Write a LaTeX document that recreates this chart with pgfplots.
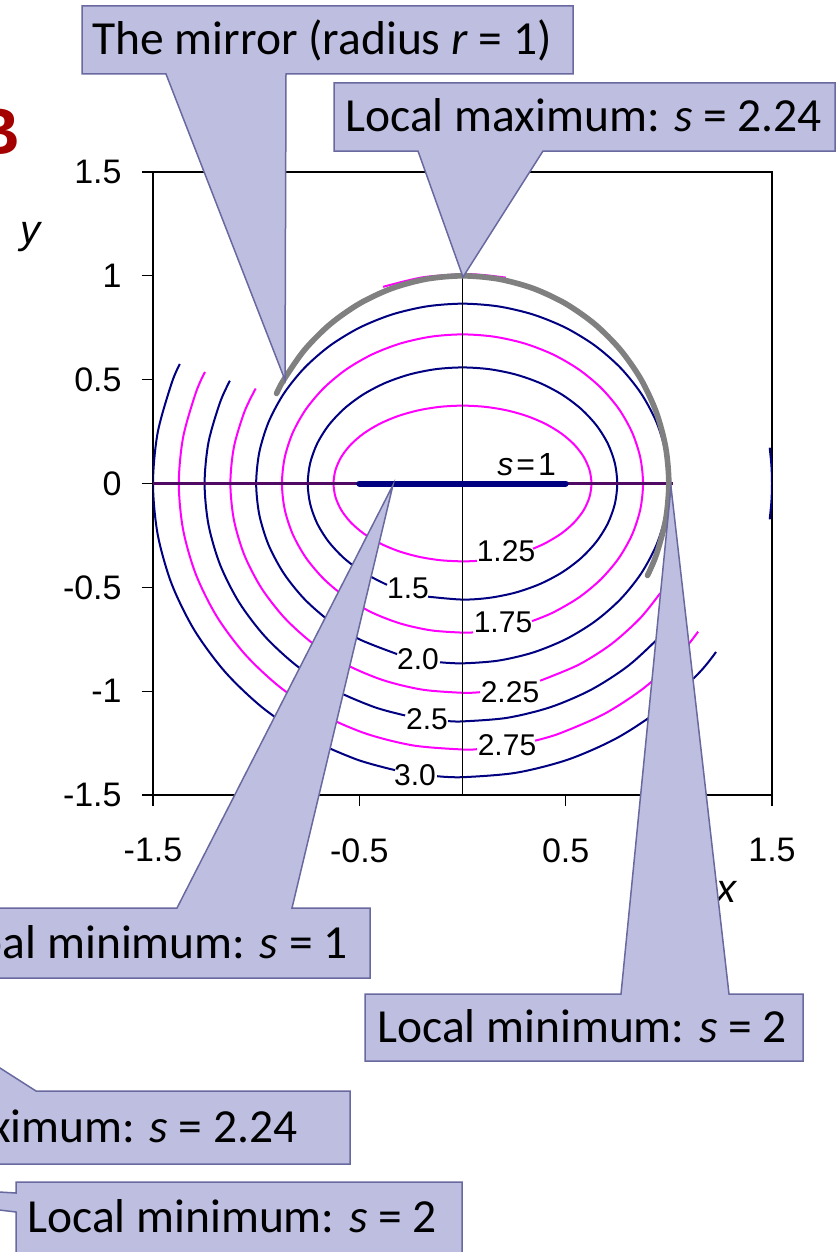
\documentclass[border=0pt]{standalone}
\usepackage{pgfplots}
\pgfplotsset{compat=1.18}
\usepackage{fontspec}
\setmainfont{Carlito}
\newfontfamily\arial{Liberation Sans}
\definecolor{cnavy}{RGB}{0,0,128}
\definecolor{cmag}{RGB}{255,0,255}
\definecolor{cfill}{RGB}{189,190,224}
\definecolor{cedge}{RGB}{105,105,160}
\definecolor{cred}{RGB}{165,0,0}
\definecolor{cgray}{RGB}{128,128,128}
\definecolor{czero}{RGB}{80,10,100}
\begin{document}
\begin{tikzpicture}
\begin{axis}[
  at={(76.5pt,-397.5pt)}, anchor=south west,
  scale only axis, width=309.5pt, height=311.5pt,
  xmin=-1.5,xmax=1.5,ymin=-1.5,ymax=1.5,
  xtick={-1.5,-0.5,0.5,1.5}, xticklabels={-1.5,-0.5,0.5,1.5},
  ytick={-1.5,-1,-0.5,0,0.5,1,1.5}, yticklabels={-1.5,-1,-0.5,0,0.5,1,1.5},
  tick align=outside, xtick pos=bottom, ytick pos=left,
  major tick length=5.5pt,
  axis line style={black,line width=0.6pt},
  tick style={black,line width=0.6pt},
  ticklabel style={font=\arial\fontsize{17}{20}\selectfont, inner sep=0pt},
  xticklabel style={anchor=north, yshift=-16pt},
  yticklabel style={anchor=east, xshift=-10pt},
]
% s = 1.25
\addplot[cmag, line width=1pt, smooth, line join=round] coordinates {
(0.342,-0.3139) (0.4017,-0.2873) (0.4788,-0.2410) (0.5413,-0.1875) (0.5873,-0.1283) (0.6155,-0.0651) (0.625,0) (0.6155,0.0651) (0.5873,0.1283) (0.5413,0.1875) (0.4788,0.2410) (0.4017,0.2873) (0.3125,0.3248) (0.2138,0.3524) (0.1085,0.3693) (0,0.375) (-0.1085,0.3693) (-0.2138,0.3524) (-0.3125,0.3248) (-0.4017,0.2873) (-0.4788,0.2410) (-0.5413,0.1875) (-0.5873,0.1283) (-0.6155,0.0651) (-0.625,0) (-0.6155,-0.0651) (-0.5873,-0.1283) (-0.5413,-0.1875) (-0.4788,-0.2410) (-0.4017,-0.2873) (-0.3125,-0.3248) (-0.2138,-0.3524) (-0.1085,-0.3693) (0,-0.375) (0.070,-0.3726)};
% s = 1.5
\addplot[cnavy, line width=1pt, smooth, line join=round] coordinates {
(-0.167,-0.5450) (0,-0.5590) (0.1302,-0.5505) (0.2565,-0.5253) (0.375,-0.4841) (0.4821,-0.4282) (0.5745,-0.3593) (0.6495,-0.2795) (0.7048,-0.1912) (0.7386,-0.0971) (0.75,0) (0.7386,0.0971) (0.7048,0.1912) (0.6495,0.2795) (0.5745,0.3593) (0.4821,0.4282) (0.375,0.4841) (0.2565,0.5253) (0.1302,0.5505) (0,0.5590) (-0.1302,0.5505) (-0.2565,0.5253) (-0.375,0.4841) (-0.4821,0.4282) (-0.5745,0.3593) (-0.6495,0.2795) (-0.7048,0.1912) (-0.7386,0.0971) (-0.75,0) (-0.7386,-0.0971) (-0.7048,-0.1912) (-0.6495,-0.2795) (-0.5745,-0.3593) (-0.4821,-0.4282) (-0.366,-0.4879)};
% s = 1.75
\addplot[cmag, line width=1pt, smooth, line join=round] coordinates {
(0.337,-0.6627) (0.4375,-0.6219) (0.5624,-0.5501) (0.6703,-0.4616) (0.7578,-0.3590) (0.8222,-0.2456) (0.8617,-0.1247) (0.875,0) (0.8617,0.1247) (0.8222,0.2456) (0.7578,0.3590) (0.6703,0.4616) (0.5624,0.5501) (0.4375,0.6219) (0.2993,0.6748) (0.1519,0.7072) (0,0.7181) (-0.1519,0.7072) (-0.2993,0.6748) (-0.4375,0.6219) (-0.5624,0.5501) (-0.6703,0.4616) (-0.7578,0.3590) (-0.8222,0.2456) (-0.8617,0.1247) (-0.875,0) (-0.8617,-0.1247) (-0.8222,-0.2456) (-0.7578,-0.3590) (-0.6703,-0.4616) (-0.5624,-0.5501) (-0.4375,-0.6219) (-0.2993,-0.6748) (-0.1519,-0.7072) (0,-0.7181) (0.051,-0.7169)};
% s = 2.0
\addplot[cnavy, line width=1pt, smooth, line join=round] coordinates {
(-0.109,-0.8609) (0,-0.8660) (0.1736,-0.8529) (0.3420,-0.8138) (0.5,-0.75) (0.6428,-0.6634) (0.7660,-0.5567) (0.8660,-0.4330) (0.9397,-0.2962) (0.9848,-0.1504) (1,0) (0.9848,0.1504) (0.9397,0.2962) (0.8660,0.4330) (0.7660,0.5567) (0.6428,0.6634) (0.5,0.75) (0.3420,0.8138) (0.1736,0.8529) (0,0.8660) (-0.1736,0.8529) (-0.3420,0.8138) (-0.5,0.75) (-0.6428,0.6634) (-0.7660,0.5567) (-0.8660,0.4330) (-0.9397,0.2962) (-0.9848,0.1504) (-1,0) (-0.9848,-0.1504) (-0.9397,-0.2962) (-0.8660,-0.4330) (-0.7660,-0.5567) (-0.6428,-0.6634) (-0.5,-0.75) (-0.317,-0.8214)};
% s = 2.25
\addplot[cmag, line width=1pt, smooth, line join=round] coordinates {
(-1.0024,0.4575) (-1.0572,0.3447) (-1.1079,0.1750) (-1.125,0) (-1.1079,-0.1750) (-1.0572,-0.3447) (-0.9743,-0.5039) (-0.8618,-0.6478) (-0.7231,-0.7720) (-0.5625,-0.8728) (-0.3848,-0.9470) (-0.1954,-0.9925) (0,-1.0078) (0.085,-1.0049)};
\addplot[cmag, line width=1pt, smooth, line join=round] coordinates {
(0.376,-0.9498) (0.5625,-0.8728) (0.7231,-0.7720) (0.8618,-0.6478) (0.9582,-0.5281)};
\addplot[cmag, line width=1pt, smooth, line join=round] coordinates {
(0.2100,0.9915) (0.1000,1.0040) (0,1.0078) (-0.1954,0.9925) (-0.3848,0.9470)};
% s = 2.5
\addplot[cnavy, line width=1pt, smooth, line join=round] coordinates {
(-1.1273,0.4950) (-1.1746,0.3918) (-1.2310,0.1989) (-1.25,0) (-1.2310,-0.1989) (-1.1746,-0.3918) (-1.0825,-0.5728) (-0.9576,-0.7364) (-0.8035,-0.8776) (-0.625,-0.9922) (-0.4275,-1.0766) (-0.278,-1.1170)};
\addplot[cnavy, line width=1pt, smooth, line join=round] coordinates {
(-0.070,-1.1438) (0,-1.1456) (0.2171,-1.1282) (0.4275,-1.0766) (0.625,-0.9922) (0.8035,-0.8776) (0.9576,-0.7364) (1.0202,-0.6620)};
% s = 2.75
\addplot[cmag, line width=1pt, smooth, line join=round] coordinates {
(-1.2482,0.5373) (-1.2921,0.4381) (-1.3541,0.2224) (-1.375,0) (-1.3541,-0.2224) (-1.2921,-0.4381) (-1.1908,-0.6404) (-1.0533,-0.8233) (-0.8838,-0.9812) (-0.6875,-1.1093) (-0.4703,-1.2036) (-0.2388,-1.2614) (0,-1.2809) (0.070,-1.2792)};
\addplot[cmag, line width=1pt, smooth, line join=round] coordinates {
(0.352,-1.2382) (0.4703,-1.2036) (0.6875,-1.1093) (0.8838,-0.9812) (1.0533,-0.8233) (1.1419,-0.7135)};
% s = 3.0
\addplot[cnavy, line width=1pt, smooth, line join=round] coordinates {
(-1.3700,0.5758) (-1.4095,0.4837) (-1.4772,0.2456) (-1.5,0) (-1.4772,-0.2456) (-1.4095,-0.4837) (-1.2990,-0.7071) (-1.1491,-0.9090) (-0.9642,-1.0834) (-0.75,-1.2247) (-0.5130,-1.3289) (-0.327,-1.3802)};
\addplot[cnavy, line width=1pt, smooth, line join=round] coordinates {
(-0.123,-1.4095) (0,-1.4142) (0.2605,-1.3927) (0.5130,-1.3289) (0.75,-1.2247) (0.9642,-1.0834) (1.1491,-0.9090) (1.2287,-0.8112)};
\addplot[cnavy, line width=1pt, smooth, line join=round] coordinates {
(1.4888,-0.1724) (1.4972,-0.0863) (1.5,0) (1.4972,0.0863) (1.4888,0.1724)};
% axes through origin
\addplot[czero, line width=1.2pt] coordinates {(-1.5,0) (1.02,0)};
\addplot[black, line width=0.8pt] coordinates {(0,-1.5) (0,1)};
% global minimum segment
\addplot[cnavy, line width=3pt, line cap=round] coordinates {(-0.5,0) (0.5,0)};
% mirror
\addplot[cgray, line width=2.8pt, smooth, line cap=round] coordinates {
(-0.9011,0.4337) (-0.8660,0.5) (-0.7660,0.6428) (-0.6428,0.7660) (-0.5,0.8660) (-0.3420,0.9397) (-0.1736,0.9848) (0,1) (0.1736,0.9848) (0.3420,0.9397) (0.5,0.8660) (0.6428,0.7660) (0.7660,0.6428) (0.8660,0.5) (0.9397,0.3420) (0.9848,0.1736) (1,0) (0.9848,-0.1736) (0.9397,-0.3420) (0.8965,-0.4431)};
\end{axis}
\begin{scope}[x=0.5pt,y=-0.5pt]
% contour labels
\begin{scope}[every node/.style={inner sep=0pt, font=\arial\fontsize{15}{17}\selectfont}]
\node at (506,551) {1.25};
\node at (408,588) {1.5};
\node at (503,622) {1.75};
\node at (418,659) {2.0};
\node at (510,692) {2.25};
\node at (427,719) {2.5};
\node at (507,745) {2.75};
\node at (415,775) {3.0};
\node[anchor=base west, font=\arial\fontsize{16}{18}\selectfont] at (497,475) {\textit{s}\hspace{1.5pt}=\hspace{1.5pt}1};
\node[anchor=base, font=\arial\itshape\fontsize{20}{22}\selectfont] at (30,243) {y};
\node[anchor=base, font=\arial\itshape\fontsize{20}{22}\selectfont] at (726,902) {x};
\node[anchor=base east, text=cred, font=\arial\bfseries\fontsize{33}{36}\selectfont] at (21,155) {B};
\end{scope}
% callouts
\begin{scope}[every path/.style={fill=cfill, draw=cedge, line width=0.75pt, line join=miter}]
\path (82,6) -- (573,6) -- (573,74) -- (286,74) -- (285,380) -- (166,74) -- (82,74) -- cycle;
\path (334,83) -- (835,83) -- (835,151) -- (543,151) -- (463,277) -- (418,151) -- (334,151) -- cycle;
\path (-80,908) -- (177,908) -- (393,485) -- (292,908) -- (370,908) -- (370,978) -- (-80,978) -- cycle;
\path (365,994) -- (621,994) -- (671,487) -- (729,994) -- (803,994) -- (803,1061) -- (365,1061) -- cycle;
\path (-170,1091) -- (-40,1091) -- (-108,999) -- (36,1091) -- (350,1091) -- (350,1164) -- (-170,1164) -- cycle;
\path (16,1182) -- (462,1182) -- (462,1290) -- (16,1290) -- (16,1212) -- (-290,1175) -- (16,1193) -- cycle;
\end{scope}
\begin{scope}[every node/.style={inner sep=0pt, font=\fontsize{23.75}{28}\selectfont}]
\node[anchor=base west] at (92,55) {The mirror (radius \textit{r} = 1)};
\node[anchor=base west] at (345,132) {Local maximum: \textit{s} = 2.24};
\node[anchor=base east] at (348,958) {Global minimum: \textit{s} = 1};
\node[anchor=base west] at (377,1042) {Local minimum: \textit{s} = 2};
\node[anchor=base east] at (298,1142) {Local maximum: \textit{s} = 2.24};
\node[anchor=base west] at (27,1232) {Local minimum: \textit{s} = 2};
\end{scope}
\end{scope}
\pgfresetboundingbox
\useasboundingbox (0,0) rectangle (419.5pt,-626pt);
\end{tikzpicture}
\end{document}
